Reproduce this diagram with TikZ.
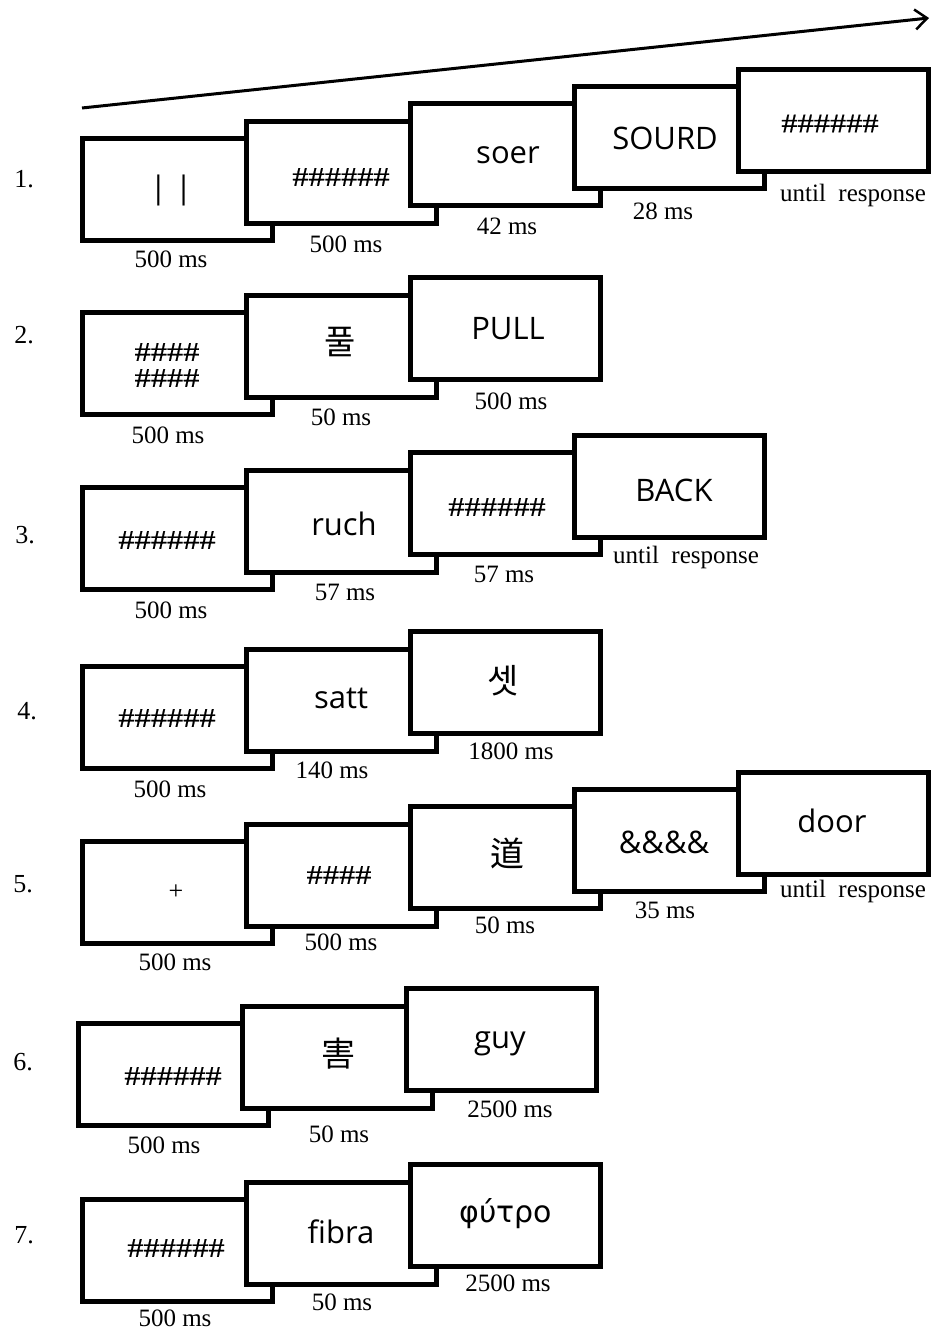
\documentclass[tikz,border=0pt]{standalone}
\usepackage{fontspec}
\setmainfont{Liberation Serif}
\newfontfamily\wordfont{Open Sans}
\newfontfamily\hashfont[FakeStretch=1.2,FakeBold=0.6]{Liberation Serif}
\newfontfamily\cjkfont{Noto Sans CJK KR}
\newfontfamily\greekfont{DejaVu Sans}
\usetikzlibrary{arrows.meta}

\tikzset{
  card/.style={draw, line width=5pt, fill=white, minimum width=190pt,
               minimum height=102pt, inner sep=0pt, outer sep=0pt},
  dur/.style={font=\fontsize{25}{30}\selectfont, anchor=base, inner sep=0pt},
  rownum/.style={font=\fontsize{26}{30}\selectfont, anchor=base, inner sep=0pt},
  word/.style={font=\wordfont\fontsize{31}{36}\selectfont, inner sep=0pt},
  lword/.style={word, anchor=base},
  hashes/.style={font=\hashfont\fontsize{27}{26}\selectfont, inner sep=0pt, align=center},
  cjk/.style={font=\cjkfont\fontsize{34}{40}\selectfont, inner sep=0pt},
  greek/.style={font=\greekfont\fontsize{30}{36}\selectfont, inner sep=0pt, anchor=base},
  sym/.style={font=\fontsize{26}{30}\selectfont, inner sep=0pt},
  timeline/.style={line width=3pt, -{Straight Barb[length=12pt,width=20pt,line width=2.5pt]}}
}

\begin{document}
\begin{tikzpicture}[x=1pt, y=-1pt]
\useasboundingbox (0,0) rectangle (933,1329);

% time axis
\coordinate (tstart) at (82,108);
\coordinate (tend) at (929,18);
\draw[timeline] (tstart) -- (tend);

% ---------- trial type 1 ----------
\node[rownum] (n1) at (24,188) {1.};
\node[card] (a1) at (177.5,189.5) {};
\node[word, font=\wordfont\fontsize{31}{36}\selectfont] (a1t) at (171,190) {| |};
\node[dur] (a1d) at (171,268) {500 ms};
\node[card] (a2) at (341.5,172.2) {};
\node[hashes] (a2t) at (341,177) {\#\#\#\#\#\#};
\node[dur] (a2d) at (346,253) {500 ms};
\node[card] (a3) at (505.5,154.9) {};
\node[lword] (a3t) at (508,164) {soer};
\node[dur] (a3d) at (507,235) {42 ms};
\node[card] (a4) at (669.5,137.6) {};
\node[word] (a4t) at (665,138) {SOURD};
\node[dur] (a4d) at (663,220) {28 ms};
\node[card] (a5) at (833.5,120.3) {};
\node[hashes] (a5t) at (830,123.5) {\#\#\#\#\#\#};
\node[dur] (a5d) at (853,202) {until\ \ response};

% ---------- trial type 2 ----------
\node[rownum] (n2) at (24,343) {2.};
\node[card] (b1) at (177.5,363.5) {};
\node[hashes] (b1t) at (167,365) {\#\#\#\#\\\#\#\#\#};
\node[dur] (b1d) at (168,443) {500 ms};
\node[card] (b2) at (341.5,346.2) {};
\node[cjk] (b2t) at (340,342.5) {풀};
\node[dur] (b2d) at (341,425) {50 ms};
\node[card] (b3) at (505.5,328.9) {};
\node[word] (b3t) at (508,329) {PULL};
\node[dur] (b3d) at (511,409) {500 ms};

% ---------- trial type 3 ----------
\node[rownum] (n3) at (25,543) {3.};
\node[card] (c1) at (177.5,538.5) {};
\node[hashes] (c1t) at (167,540) {\#\#\#\#\#\#};
\node[dur] (c1d) at (171,618) {500 ms};
\node[card] (c2) at (341.5,521.2) {};
\node[lword] (c2t) at (344,535) {ruch};
\node[dur] (c2d) at (345,600) {57 ms};
\node[card] (c3) at (505.5,503.9) {};
\node[hashes] (c3t) at (497,507) {\#\#\#\#\#\#};
\node[dur] (c3d) at (504,582) {57 ms};
\node[card] (c4) at (669.5,486.6) {};
\node[word] (c4t) at (674,490) {BACK};
\node[dur] (c4d) at (686,563) {until\ \ response};

% ---------- trial type 4 ----------
\node[rownum] (n4) at (27,719) {4.};
\node[card] (d1) at (177.5,717.5) {};
\node[hashes] (d1t) at (167,718) {\#\#\#\#\#\#};
\node[dur] (d1d) at (170,797) {500 ms};
\node[card] (d2) at (341.5,700.2) {};
\node[lword] (d2t) at (341,708) {satt};
\node[dur] (d2d) at (332,778) {140 ms};
\node[card] (d3) at (505.5,682.9) {};
\node[cjk] (d3t) at (503,681) {셋};
\node[dur] (d3d) at (511,759) {1800 ms};

% ---------- trial type 5 ----------
\node[rownum] (n5) at (23,892) {5.};
\node[card] (e1) at (177.5,892.5) {};
\node[sym] (e1t) at (176,892) {+};
\node[dur] (e1d) at (175,970) {500 ms};
\node[card] (e2) at (341.5,875.2) {};
\node[hashes] (e2t) at (339,875) {\#\#\#\#};
\node[dur] (e2d) at (341,950) {500 ms};
\node[card] (e3) at (505.5,857.9) {};
\node[cjk] (e3t) at (507,853) {道};
\node[dur] (e3d) at (505,933) {50 ms};
\node[card] (e4) at (669.5,840.6) {};
\node[word] (e4t) at (664,842) {\&\&\&\&};
\node[dur] (e4d) at (665,918) {35 ms};
\node[card] (e5) at (833.5,823.3) {};
\node[lword] (e5t) at (832,832) {door};
\node[dur] (e5d) at (853,897) {until\ \ response};

% ---------- trial type 6 ----------
\node[rownum] (n6) at (23,1070) {6.};
\node[card] (f1) at (173.5,1074.5) {};
\node[hashes] (f1t) at (173,1076) {\#\#\#\#\#\#};
\node[dur] (f1d) at (164,1153) {500 ms};
\node[card] (f2) at (337.5,1057.2) {};
\node[cjk] (f2t) at (338,1054) {害};
\node[dur] (f2d) at (339,1142) {50 ms};
\node[card] (f3) at (501.5,1039.9) {};
\node[lword] (f3t) at (500,1048) {guy};
\node[dur] (f3d) at (510,1117) {2500 ms};

% ---------- trial type 7 ----------
\node[rownum] (n7) at (24,1243) {7.};
\node[card] (g1) at (177.5,1250.5) {};
\node[hashes] (g1t) at (176,1248) {\#\#\#\#\#\#};
\node[dur] (g1d) at (175,1326) {500 ms};
\node[card] (g2) at (341.5,1233.2) {};
\node[lword] (g2t) at (341,1243) {fibra};
\node[dur] (g2d) at (342,1310) {50 ms};
\node[card] (g3) at (505.5,1215.9) {};
\node[greek] (g3t) at (506,1222) {φύτρο};
\node[dur] (g3d) at (508,1291) {2500 ms};
\end{tikzpicture}
\end{document}
